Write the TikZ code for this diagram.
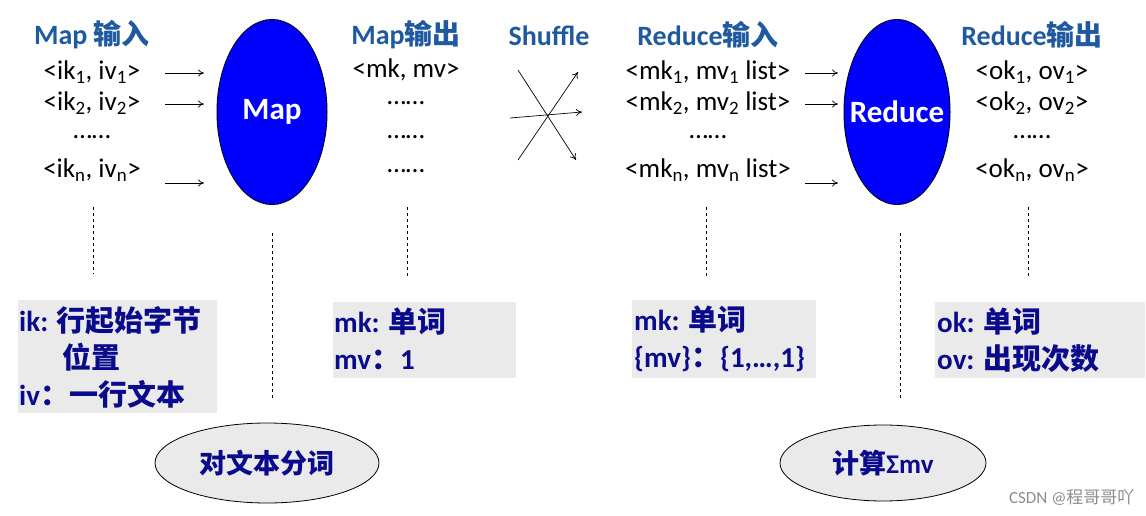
\documentclass[tikz,border=0pt]{standalone}
\usepackage{fontspec}
\setmainfont{Carlito}
\newfontfamily\cjk{Noto Sans CJK SC}
\usetikzlibrary{shapes.geometric,arrows.meta}
\definecolor{hd}{RGB}{31,90,160}
\definecolor{tx}{RGB}{10,10,140}
\definecolor{bx}{RGB}{234,234,234}
\newcommand{\sbs}[1]{\textsubscript{#1}}
\tikzset{
 head/.style={font=\fontsize{28}{32}\selectfont\bfseries, text=hd},
 item/.style={font=\fontsize{27}{32}\selectfont},
 arr/.style={-{To[length=6pt,width=7pt]}, line width=0.7pt},
 vd/.style={dashed, line width=0.6pt},
 bigell/.style={ellipse, draw=black!80!blue, fill=blue, line width=1pt, inner sep=0pt},
 elltxt/.style={text=white, font=\fontsize{31}{36}\selectfont\bfseries},
 smell/.style={ellipse, draw=black, fill=bx, line width=0.8pt, text=tx, font=\fontsize{27}{32}\selectfont\cjk\bfseries},
 box/.style={fill=bx},
 btxt/.style={anchor=north west, text=tx, align=left, font=\fontsize{29}{37}\selectfont\bfseries, inner sep=0pt}
}
\begin{document}
\begin{tikzpicture}[x=1pt,y=-1pt]
\useasboundingbox (0,0) rectangle (1146,516);
% headings
\node[head] (h1) at (92,35) {Map {\cjk 输入}};
\node[head] (h2) at (406,35) {Map{\cjk 输出}};
\node[head] (h3) at (549,36) {Shuffle};
\node[head] (h4) at (708,35) {Reduce{\cjk 输入}};
\node[head] (h5) at (1032,35) {Reduce{\cjk 输出}};
% ellipses
\node[bigell, minimum width=110, minimum height=185] (map) at (272,112) {};
\node[elltxt] (mapt) at (map.center) {Map};
\node[bigell, minimum width=106, minimum height=185] (red) at (897,112) {};
\node[elltxt] (redt) at (red.center) {Reduce};
% map input
\node[item] (i1) at (92,72) {<ik\sbs{1}, iv\sbs{1}>};
\node[item] (i2) at (92,103) {<ik\sbs{2}, iv\sbs{2}>};
\node[item] (i3) at (92,137) {……};
\node[item] (i4) at (92,170) {<ik\sbs{n}, iv\sbs{n}>};
\coordinate (a1s) at (165,73); \coordinate (a1e) at (204,73);
\coordinate (a2s) at (165,104); \coordinate (a2e) at (204,104);
\coordinate (a3s) at (165,183); \coordinate (a3e) at (204,183);
\draw[arr] (a1s) -- (a1e); \draw[arr] (a2s) -- (a2e); \draw[arr] (a3s) -- (a3e);
% map output
\node[item] (o1) at (406,70) {<mk, mv>};
\node[item] (o2) at (406,103) {……};
\node[item] (o3) at (406,137) {……};
\node[item] (o4) at (406,171) {……};
% shuffle
\coordinate (s1) at (518,160); \coordinate (e1) at (578,72);
\coordinate (s2) at (510,118); \coordinate (e2) at (582,112);
\coordinate (s3) at (518,70); \coordinate (e3) at (576,160);
\draw[arr] (s1) -- (e1); \draw[arr] (s2) -- (e2); \draw[arr] (s3) -- (e3);
% reduce input
\node[item] (r1) at (708,72) {<mk\sbs{1}, mv\sbs{1} list>};
\node[item] (r2) at (708,103) {<mk\sbs{2}, mv\sbs{2} list>};
\node[item] (r3) at (708,137) {……};
\node[item] (r4) at (708,170) {<mk\sbs{n}, mv\sbs{n} list>};
\coordinate (b1s) at (805,73); \coordinate (b1e) at (838,73);
\coordinate (b2s) at (805,104); \coordinate (b2e) at (838,104);
\coordinate (b3s) at (805,183); \coordinate (b3e) at (838,183);
\draw[arr] (b1s) -- (b1e); \draw[arr] (b2s) -- (b2e); \draw[arr] (b3s) -- (b3e);
% reduce output
\node[item] (q1) at (1032,72) {<ok\sbs{1}, ov\sbs{1}>};
\node[item] (q2) at (1032,103) {<ok\sbs{2}, ov\sbs{2}>};
\node[item] (q3) at (1032,137) {……};
\node[item] (q4) at (1032,170) {<ok\sbs{n}, ov\sbs{n}>};
% dashed
\coordinate (d1a) at (93,207); \coordinate (d1b) at (93,274);
\coordinate (d2a) at (272,233); \coordinate (d2b) at (272,398);
\coordinate (d3a) at (407,207); \coordinate (d3b) at (407,276);
\coordinate (d4a) at (706,207); \coordinate (d4b) at (706,278);
\coordinate (d5a) at (900,233); \coordinate (d5b) at (900,398);
\coordinate (d6a) at (1028,207); \coordinate (d6b) at (1028,276);
\foreach \d in {1,...,6} \draw[vd] (d\d a) -- (d\d b);
% boxes
\fill[box] (18,300) rectangle (217,413);
\fill[box] (333,302) rectangle (516,378);
\fill[box] (632,300) rectangle (816,378);
\fill[box] (935,302) rectangle (1145,378);
\node[btxt] (t1) at (19,306) {ik: {\cjk 行起始字节}\\\hspace{1.5em}{\cjk 位置}\\iv{\cjk ：一行文本}};
\node[btxt] (t2) at (334,308) {mk: {\cjk 单词}\\mv{\cjk ：}1};
\node[btxt] (t3) at (634,306) {mk: {\cjk 单词}\\\{mv\}{\cjk ：}\{1,…,1\}};
\node[btxt] (t4) at (937,308) {ok: {\cjk 单词}\\ov: {\cjk 出现次数}};
% ovals
\node[smell, minimum width=224, minimum height=80] (c1) at (267,463) {对文本分词};
\node[smell, minimum width=206, minimum height=76] (c2) at (883,463) {计算{\fontspec{Carlito}\bfseries Σmv}};
\node[text=black!45, font=\fontsize{17}{20}\selectfont, anchor=east] (wm) at (1138,497) {CSDN @{\cjk 程哥哥吖}};
\end{tikzpicture}
\end{document}
